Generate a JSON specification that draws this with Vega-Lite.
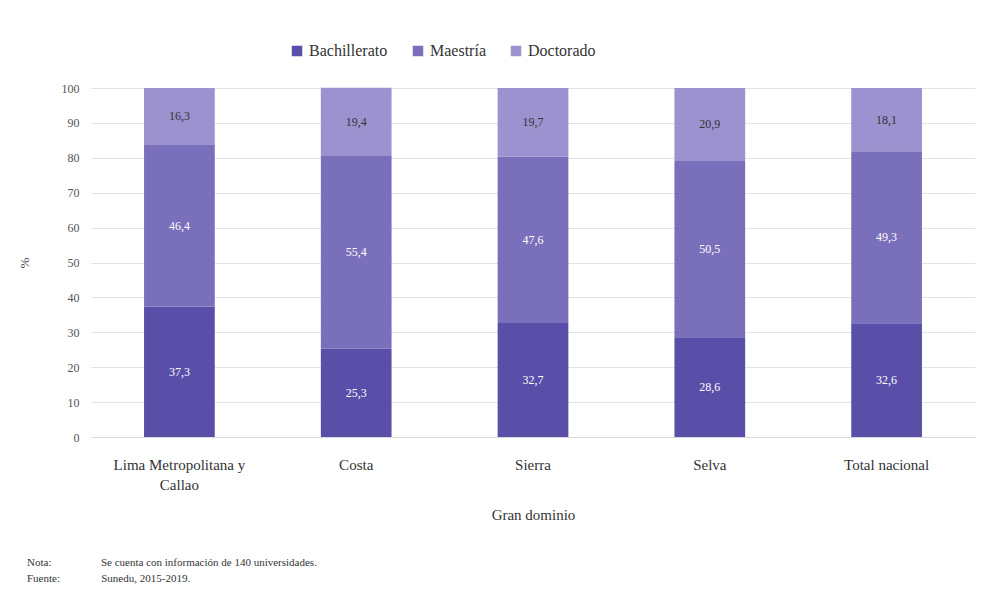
{
  "$schema": "https://vega.github.io/schema/vega-lite/v6.json",
  "width": 982,
  "height": 596,
  "autosize": {"type": "fit", "contains": "padding"},
  "padding": {"left": 18, "top": 82, "right": 7, "bottom": 12},
  "background": "white",
  "title": {
    "text": ["Nota:\u00a0\u00a0\u00a0\u00a0\u00a0\u00a0\u00a0\u00a0\u00a0\u00a0\u00a0\u00a0\u00a0\u00a0\u00a0\u00a0\u00a0\u00a0Se cuenta con información de 140 universidades.", "Fuente:\u00a0\u00a0\u00a0\u00a0\u00a0\u00a0\u00a0\u00a0\u00a0\u00a0\u00a0\u00a0\u00a0\u00a0\u00a0Sunedu, 2015-2019."],
    "orient": "bottom",
    "anchor": "start",
    "frame": "bounds",
    "font": "Liberation Serif",
    "fontSize": 11,
    "fontWeight": "normal",
    "color": "#333333",
    "lineHeight": 16,
    "offset": 35,
    "dx": 9
  },
  "config": {
    "locale": {"number": {"decimal": ",", "thousands": ".", "grouping": [3], "currency": ["", ""]}},
    "view": {"stroke": null},
    "font": "Liberation Serif",
    "axis": {"labelFont": "Liberation Serif", "titleFont": "Liberation Serif"},
    "legend": {"labelFont": "Liberation Serif", "titleFont": "Liberation Serif"},
    "text": {"font": "Liberation Serif"}
  },
  "data": {
    "values": [
      {"dominio": "Lima Metropolitana y Callao", "grado": "Bachillerato", "pct": 37.3},
      {"dominio": "Lima Metropolitana y Callao", "grado": "Maestría", "pct": 46.4},
      {"dominio": "Lima Metropolitana y Callao", "grado": "Doctorado", "pct": 16.3},
      {"dominio": "Costa", "grado": "Bachillerato", "pct": 25.3},
      {"dominio": "Costa", "grado": "Maestría", "pct": 55.4},
      {"dominio": "Costa", "grado": "Doctorado", "pct": 19.4},
      {"dominio": "Sierra", "grado": "Bachillerato", "pct": 32.7},
      {"dominio": "Sierra", "grado": "Maestría", "pct": 47.6},
      {"dominio": "Sierra", "grado": "Doctorado", "pct": 19.7},
      {"dominio": "Selva", "grado": "Bachillerato", "pct": 28.6},
      {"dominio": "Selva", "grado": "Maestría", "pct": 50.5},
      {"dominio": "Selva", "grado": "Doctorado", "pct": 20.9},
      {"dominio": "Total nacional", "grado": "Bachillerato", "pct": 32.6},
      {"dominio": "Total nacional", "grado": "Maestría", "pct": 49.3},
      {"dominio": "Total nacional", "grado": "Doctorado", "pct": 18.1}
    ]
  },
  "transform": [
    {"calculate": "indexof(['Bachillerato','Maestría','Doctorado'], datum.grado)", "as": "orden"},
    {"stack": "pct", "groupby": ["dominio"], "sort": [{"field": "orden", "order": "ascending"}], "as": ["y0", "y1"]},
    {"calculate": "(datum.y0 + datum.y1) / 2", "as": "ymid"}
  ],
  "encoding": {
    "x": {
      "field": "dominio",
      "type": "nominal",
      "sort": ["Lima Metropolitana y Callao", "Costa", "Sierra", "Selva", "Total nacional"],
      "scale": {"paddingInner": 0.6, "paddingOuter": 0.3},
      "axis": {
        "title": "Gran dominio",
        "titleFont": "Liberation Serif",
        "titleFontSize": 15,
        "titleFontWeight": "normal",
        "titleColor": "#333333",
        "titlePadding": 15,
        "labelAngle": 0,
        "labelFont": "Liberation Serif",
        "labelFontSize": 15,
        "labelColor": "#333333",
        "labelPadding": 20,
        "labelLineHeight": 20,
        "labelExpr": "datum.value == 'Lima Metropolitana y Callao' ? ['Lima Metropolitana y', 'Callao'] : datum.value",
        "ticks": false,
        "domain": true,
        "domainColor": "#d9d9d9",
        "grid": false
      }
    },
    "y": {
      "type": "quantitative",
      "scale": {"domain": [0, 100]},
      "axis": {
        "title": "%",
        "titleFont": "Liberation Serif",
        "titleFontSize": 13,
        "titleFontWeight": "normal",
        "titleColor": "#444444",
        "titlePadding": 30,
        "values": [0, 10, 20, 30, 40, 50, 60, 70, 80, 90, 100],
        "labelFont": "Liberation Serif",
        "labelFontSize": 12,
        "labelColor": "#555555",
        "labelPadding": 12,
        "ticks": false,
        "domain": false,
        "grid": true,
        "gridColor": "#e3e3e3"
      }
    }
  },
  "layer": [
    {
      "mark": {"type": "bar"},
      "encoding": {
        "y": {"field": "y0", "type": "quantitative", "title": "%"},
        "y2": {"field": "y1"},
        "color": {
          "field": "grado",
          "type": "nominal",
          "sort": ["Bachillerato", "Maestría", "Doctorado"],
          "scale": {"domain": ["Bachillerato", "Maestría", "Doctorado"], "range": ["#5a4fa8", "#7a6fba", "#9c92cf"]},
          "legend": {
            "title": null,
            "orient": "none",
            "direction": "horizontal",
            "legendX": 198,
            "legendY": -45,
            "symbolType": "square",
            "symbolSize": 110,
            "symbolStrokeWidth": 0,
            "labelFont": "Liberation Serif",
            "labelFontSize": 16,
            "labelColor": "#333333",
            "columnPadding": 22,
            "labelOffset": 4
          }
        }
      }
    },
    {
      "mark": {"type": "text", "font": "Liberation Serif", "fontSize": 12},
      "encoding": {
        "y": {"field": "ymid", "type": "quantitative", "title": "%"},
        "text": {"field": "pct", "type": "quantitative", "format": ".1f"},
        "color": {
          "condition": {"test": "datum.grado == 'Doctorado'", "value": "#333333"},
          "value": "white"
        }
      }
    }
  ]
}
